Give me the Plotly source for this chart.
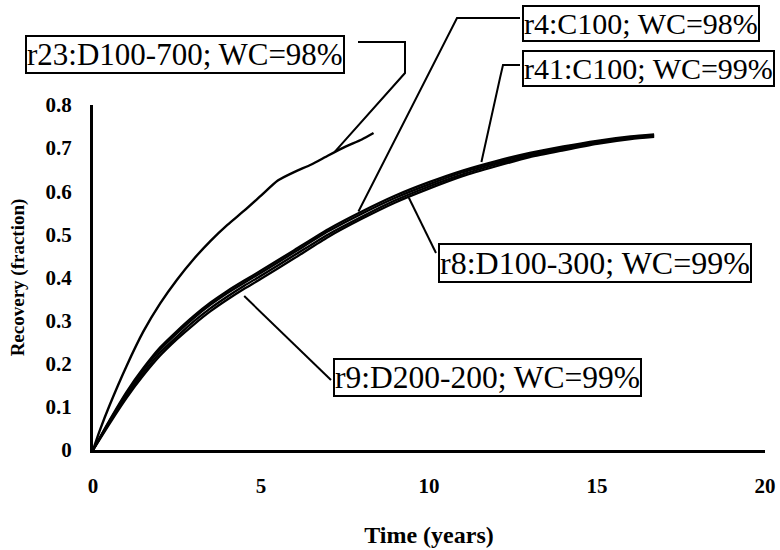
import plotly.graph_objects as go

# ---- data ----
t_r23 = [0, 0.2, 0.5, 1.0, 1.5, 2.0, 2.5, 3.0, 3.5, 4.0, 4.5, 5.0, 5.5, 6.0, 6.5, 7.0, 7.5, 8.0, 8.35]
rec_r23 = [0, 0.045, 0.105, 0.195, 0.275, 0.34, 0.395, 0.443, 0.485, 0.522, 0.555, 0.59, 0.625, 0.645, 0.662, 0.683, 0.703, 0.72, 0.735]

t_bundle = [0, 0.5, 1, 1.5, 2, 2.5, 3, 3.5, 4, 4.5, 5, 6, 7, 8, 9, 10, 11, 12, 13, 14, 15, 16, 16.7]
rec_r4 = [0, 0.070, 0.135, 0.190, 0.238, 0.276, 0.311, 0.342, 0.369, 0.393, 0.416, 0.464, 0.512, 0.553, 0.590, 0.621, 0.648, 0.670, 0.689, 0.704, 0.717, 0.727, 0.732]
rec_r41 = [0, 0.068, 0.131, 0.186, 0.233, 0.271, 0.306, 0.337, 0.364, 0.388, 0.411, 0.459, 0.507, 0.548, 0.585, 0.616, 0.644, 0.666, 0.686, 0.701, 0.715, 0.725, 0.730]
rec_r8 = [0, 0.065, 0.126, 0.179, 0.226, 0.263, 0.298, 0.329, 0.356, 0.381, 0.404, 0.452, 0.500, 0.541, 0.579, 0.611, 0.639, 0.662, 0.682, 0.698, 0.712, 0.723, 0.728]
rec_r9 = [0, 0.062, 0.121, 0.173, 0.219, 0.257, 0.291, 0.322, 0.349, 0.374, 0.397, 0.445, 0.494, 0.536, 0.574, 0.606, 0.635, 0.658, 0.679, 0.695, 0.710, 0.721, 0.726]

x_ticks = [0, 5, 10, 15, 20]
x_ticktext = ["0", "5", "10", "15", "20"]
y_ticks = [0, 0.1, 0.2, 0.3, 0.4, 0.5, 0.6, 0.7, 0.8]
y_ticktext = ["0", "0.1", "0.2", "0.3", "0.4", "0.5", "0.6", "0.7", "0.8"]

labels = ["r23:D100-700; WC=98%", "r4:C100; WC=98%", "r41:C100; WC=99%",
          "r8:D100-300; WC=99%", "r9:D200-200; WC=99%"]
# point on the curve each leader line touches (years, fraction)
label_targets = [(7.2, 0.692), (7.9, 0.553), (11.56, 0.668), (9.4, 0.585), (4.5, 0.357)]

X_MAX, Y_MAX = 20, 0.8
FONT = "Liberation Serif"

# plot-area geometry in pixels
W, H = 780, 550
L, R, T, B = 93, 15, 105, 100
PW, PH = W - L - R, H - T - B


def px(xp, yp):
    """pixel position -> paper coordinates"""
    return (xp - L) / PW, (H - B - yp) / PH


def dp(xd, yd):
    """data position -> paper coordinates"""
    return xd / X_MAX, yd / Y_MAX


fig = go.Figure()
fig.add_trace(go.Scatter(x=t_r23, y=rec_r23, mode="lines",
                         line=dict(color="black", width=2.4, shape="spline", smoothing=0.6),
                         name="r23", showlegend=False))
for name, ys in [("r4", rec_r4), ("r41", rec_r41), ("r8", rec_r8), ("r9", rec_r9)]:
    fig.add_trace(go.Scatter(x=t_bundle, y=ys, mode="lines",
                             line=dict(color="black", width=2.3, shape="spline", smoothing=0.6),
                             name=name, showlegend=False))

# label boxes: left/top in pixels, text size
box_pos = [(25, 35), (522, 5), (522, 50), (438, 243), (333, 358)]
box_font = [31, 30, 30, 32, 31.5]
annotations = []
for text, (bx, by), fs in zip(labels, box_pos, box_font):
    xp, yp = px(bx, by)
    annotations.append(dict(x=xp, y=yp, xref="paper", yref="paper", xanchor="left", yanchor="top",
                            text=text, showarrow=False, font=dict(family=FONT, size=fs, color="black"),
                            bordercolor="black", borderwidth=2, borderpad=0, bgcolor="white"))

# leader lines: pixel elbows, ending on the curve (data)
elbows = [
    [(358, 42), (405, 42), (405, 73)],
    [(520, 18), (457, 18)],
    [(520, 65), (503, 65), (500, 78)],
    [(436, 253)],
    [(331, 380)],
]
shapes = []
for pts, tgt in zip(elbows, label_targets):
    coords = [px(*p) for p in pts] + [dp(*tgt)]
    path = "M " + " L ".join(f"{a:.5f},{b:.5f}" for a, b in coords)
    shapes.append(dict(type="path", path=path, xref="paper", yref="paper",
                       line=dict(color="black", width=2)))

fig.update_layout(
    width=W, height=H,
    margin=dict(l=L, r=R, t=T, b=B, autoexpand=False),
    paper_bgcolor="white", plot_bgcolor="white",
    font=dict(family=FONT, color="black"),
    annotations=annotations, shapes=shapes,
    xaxis=dict(range=[0, X_MAX], tickvals=x_ticks, ticktext=x_ticktext, showgrid=False, zeroline=False,
               showline=True, linecolor="black", linewidth=3, ticks="", ticklabelstandoff=15, automargin=False,
               tickfont=dict(family=FONT, size=21, color="black", weight="bold"),
               title=dict(text="<b>Time (years)</b>", font=dict(family=FONT, size=24), standoff=29)),
    yaxis=dict(range=[0, Y_MAX], tickvals=y_ticks, ticktext=y_ticktext, showgrid=False, zeroline=False,
               showline=True, linecolor="black", linewidth=3, ticks="", ticklabelstandoff=14, automargin=False,
               tickfont=dict(family=FONT, size=21, color="black", weight="bold"),
               title=dict(text="<b>Recovery (fraction)</b>", font=dict(family=FONT, size=19), standoff=16)),
)

fig.write_html("out.html", config={"displayModeBar": False},
               post_script="document.body.style.margin='0';document.body.style.padding='0';")
